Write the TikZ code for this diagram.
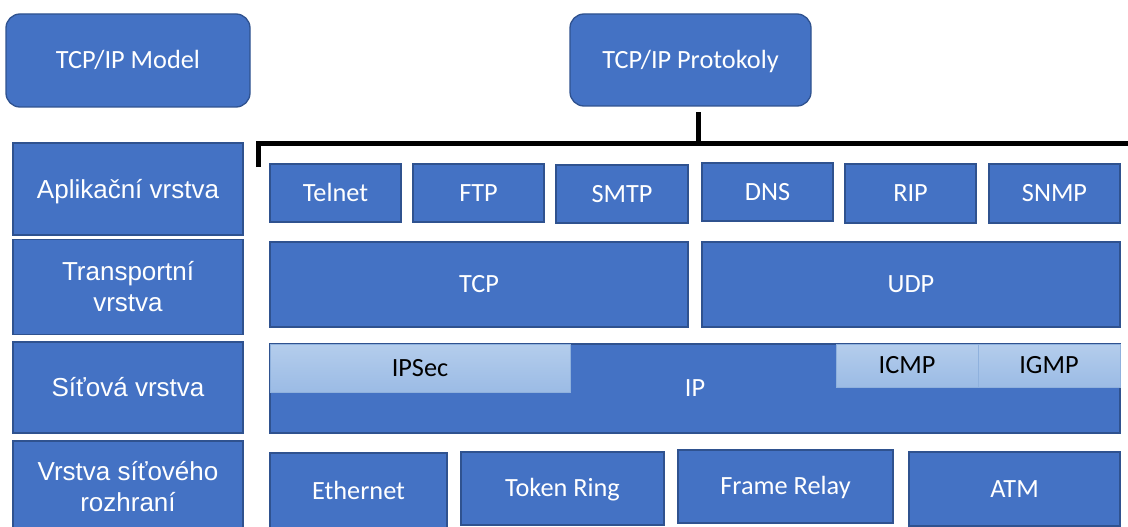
\documentclass[tikz,border=0pt]{standalone}
\usepackage{fontspec}
\setmainfont{Carlito}
\newfontfamily\arialf{Liberation Sans}
\definecolor{obl}{HTML}{4472C4}
\definecolor{obd}{HTML}{2F528F}
\definecolor{ltop}{HTML}{B4CDEC}
\definecolor{lbot}{HTML}{9BBBE5}
\definecolor{lbrd}{HTML}{8FB1DD}
\begin{document}
\begin{tikzpicture}[x=1pt,y=-1pt,
  base/.style={draw=obd, line width=1.3pt, fill=obl, text=white, inner sep=0pt,
    font=\fontsize{26.3}{31}\selectfont, text height=16.9pt, text depth=0pt},
  round/.style={base, rounded corners=14pt},
  layer/.style={draw=obd, line width=1.3pt, fill=obl, text=white, inner sep=0pt,
    font=\arialf\fontsize{26}{31}\selectfont, align=center},
  layer1/.style={layer, text height=18.6pt, text depth=0pt},
  lightbox/.style={draw=lbrd, line width=0.8pt, top color=ltop, bottom color=lbot,
    text=black, inner sep=0pt, font=\fontsize{26.3}{31}\selectfont, text height=16.9pt, text depth=0pt},
  bracket/.style={line width=5pt, draw=black, line join=miter}]
\useasboundingbox (0,0) rectangle (1128,527);
% headers
\node[round, minimum width=244pt, minimum height=93pt] (model) at (128,60.5) {TCP/IP Model};
\node[round, minimum width=241pt, minimum height=92pt] (proto) at (690.5,60) {TCP/IP Protokoly};
% layers
\node[layer1, minimum width=230pt, minimum height=92pt] (app) at (128,189) {Aplikační vrstva};
\node[layer, minimum width=230pt, minimum height=95pt] (trans) at (128,287) {Transportní\\vrstva};
\node[layer1, minimum width=230pt, minimum height=91pt] (sit) at (128,387.5) {Síťová vrstva};
\node[layer, minimum width=230pt, minimum height=92pt] (rozh) at (128,487) {Vrstva síťového\\rozhraní};
% bracket
\coordinate (stemtop) at (698,112);
\coordinate (stembot) at (698,143);
\coordinate (barL) at (258,143);
\coordinate (barR) at (1130,143);
\coordinate (tick) at (258,167);
\draw[bracket] (stemtop) -- (stembot);
\draw[bracket] (tick) -- (barL) -- (barR);
% application protocols
\node[base, minimum width=131pt, minimum height=58pt] (telnet) at (335.5,193) {Telnet};
\node[base, minimum width=131pt, minimum height=58pt] (ftp) at (478.5,193) {FTP};
\node[base, minimum width=132pt, minimum height=58pt] (smtp) at (622,194) {SMTP};
\node[base, minimum width=131pt, minimum height=58pt] (dns) at (767.5,192) {DNS};
\node[base, minimum width=131pt, minimum height=59pt] (rip) at (910.5,193.5) {RIP};
\node[base, minimum width=131pt, minimum height=59pt] (snmp) at (1054.5,193.5) {SNMP};
% transport
\node[base, minimum width=418pt, minimum height=85pt] (tcp) at (479,284.5) {TCP};
\node[base, minimum width=418pt, minimum height=85pt] (udp) at (911,284.5) {UDP};
% network
\node[base, minimum width=850pt, minimum height=89pt] (ip) at (695,388.5) {IP};
\node[lightbox, minimum width=300pt, minimum height=48pt] (ipsec) at (420,368) {IPSec};
\node[lightbox, minimum width=142pt, minimum height=43pt] (icmp) at (907,365.5) {ICMP};
\node[lightbox, minimum width=142pt, minimum height=43pt] (igmp) at (1049,365.5) {IGMP};
% link
\node[base, minimum width=177pt, minimum height=77pt] (eth) at (358.5,491.5) {Ethernet};
\node[base, minimum width=203pt, minimum height=73pt] (token) at (562.5,488.5) {Token Ring};
\node[base, minimum width=215pt, minimum height=73pt] (frame) at (785.5,486.5) {Frame Relay};
\node[base, minimum width=211pt, minimum height=74pt] (atm) at (1014.5,489) {ATM};
\end{tikzpicture}
\end{document}
